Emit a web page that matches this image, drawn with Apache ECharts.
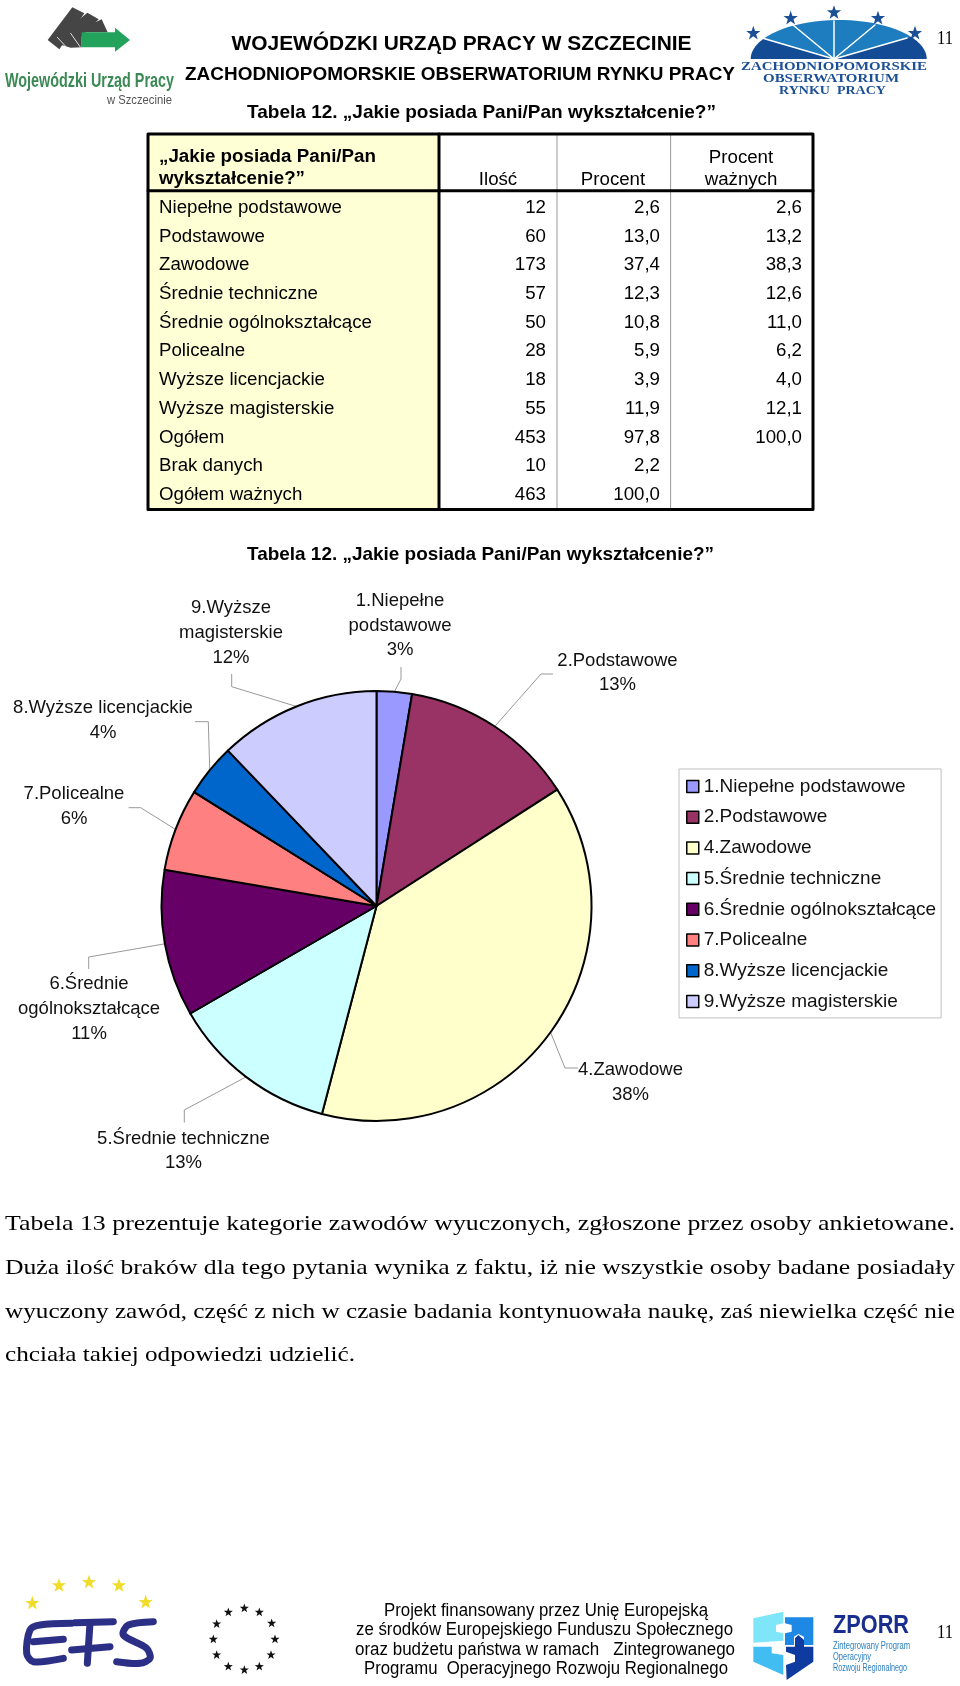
<!DOCTYPE html>
<html lang="pl">
<head>
<meta charset="utf-8">
<title>Tabela 12</title>
<script src="https://cdn.jsdelivr.net/npm/echarts@6/dist/echarts.min.js"></script>
<style>html,body{margin:0;padding:0;background:#fff}#c{width:960px;height:1686px}</style>
</head>
<body>
<div id="c"></div>
<script>
// ---- chart data ----
const categories = ['1.Niepełne podstawowe','2.Podstawowe','4.Zawodowe','5.Średnie techniczne','6.Średnie ogólnokształcące','7.Policealne','8.Wyższe licencjackie','9.Wyższe magisterskie'];
const wrappedLabels = ['1.Niepełne\npodstawowe','2.Podstawowe','4.Zawodowe','5.Średnie techniczne','6.Średnie\nogólnokształcące','7.Policealne','8.Wyższe licencjackie','9.Wyższe\nmagisterskie'];
const counts = [12,60,173,57,50,28,18,55];
const sliceColors = ['#9999FF','#993366','#FFFFCC','#CCFFFF','#660066','#FF8080','#0066CC','#CCCCFF'];

// ---- table data ----
const tableHead = ['Ilość','Procent','Procent\nważnych'];
const tableTitle = ['„Jakie posiada Pani/Pan','wykształcenie?”'];
const rowLabels = ['Niepełne podstawowe','Podstawowe','Zawodowe','Średnie techniczne','Średnie ogólnokształcące','Policealne','Wyższe licencjackie','Wyższe magisterskie','Ogółem','Brak danych','Ogółem ważnych'];
const rowCounts = ['12','60','173','57','50','28','18','55','453','10','463'];
const rowPercent = ['2,6','13,0','37,4','12,3','10,8','5,9','3,9','11,9','97,8','2,2','100,0'];
const rowValid = ['2,6','13,2','38,3','12,6','11,0','6,2','4,0','12,1','100,0','',''];

// ---- page text ----
const bodyLines = ['Tabela 13 prezentuje kategorie zawodów wyuczonych, zgłoszone przez osoby ankietowane.','Duża ilość braków dla tego pytania wynika z faktu, iż nie wszystkie osoby badane posiadały','wyuczony zawód, część z nich w czasie badania kontynuowała naukę, zaś niewielka część nie','chciała takiej odpowiedzi udzielić.'];
const footerLines = ['Projekt finansowany przez Unię Europejską','ze środków Europejskiego Funduszu Społecznego','oraz budżetu państwa w ramach   Zintegrowanego','Programu  Operacyjnego Rozwoju Regionalnego'];

// ---- label placement (centre of label, then leader elbow and end) ----
const labelPlace = [
  {c:[400,625.5], e:[401,679], t:[401,667]},
  {c:[617.5,673], e:[541,674], t:[553,674]},
  {c:[630.5,1082.5], e:[565,1068], t:[578,1068]},
  {c:[183.5,1151], e:[184.3,1110], t:[184.3,1122.5]},
  {c:[89,1009], e:[88.7,957], t:[88.7,969]},
  {c:[74,806.5], e:[140.7,807.7], t:[128.7,807.7]},
  {c:[103,720.5], e:[208.3,721.7], t:[195,721.7]},
  {c:[231,633], e:[231.7,686.7], t:[231.7,674]}
];

const SANS = '"Liberation Sans",Arial,sans-serif', SERIF = '"Liberation Serif","Times New Roman",serif';
const meas = document.createElement('canvas').getContext('2d');
const els = [];
function T(text,x,y,size,o){
  o=o||{};
  const fam=o.fam||SANS, w=o.bold?'bold':'normal';
  let sx=1;
  if(o.w){meas.font=w+' '+size+'px '+fam;sx=o.w/meas.measureText(text).width;}
  els.push({type:'text',x:x,y:y,scaleX:sx,z:5,silent:true,style:{text:text,fontSize:size,fontFamily:fam,fontWeight:w,fill:o.fill||'#000',align:o.align||'left',verticalAlign:'middle'}});
}
function R(x,y,w,h,fill){els.push({type:'rect',z:1,silent:true,shape:{x:x,y:y,width:w,height:h},style:{fill:fill}});}
function P(pts,fill,z){els.push({type:'polygon',z:z||3,silent:true,shape:{points:pts},style:{fill:fill}});}
function L(pts,color,width,smooth){els.push({type:'polyline',z:4,silent:true,shape:{points:pts,smooth:smooth||0},style:{stroke:color,lineWidth:width,fill:null,lineCap:'round',lineJoin:'round'}});}
function star(cx,cy,r,fill){
  const p=[];for(let i=0;i<10;i++){const a=-Math.PI/2+i*Math.PI/5,q=i%2?r*0.4:r;p.push([cx+q*Math.cos(a),cy+q*Math.sin(a)]);}
  P(p,fill,4);
}
function z3(base,pts){return pts.map(p=>[base[0]+p[0]/3,base[1]+p[1]/3]);}

// Titles
T('WOJEWÓDZKI URZĄD PRACY W SZCZECINIE',231.5,44,21,{bold:1,w:460});
T('ZACHODNIOPOMORSKIE OBSERWATORIUM RYNKU PRACY',185,74.5,19,{bold:1,w:550});
T('Tabela 12. „Jakie posiada Pani/Pan wykształcenie?”',247,112.5,19,{bold:1,w:469});
T('Tabela 12. „Jakie posiada Pani/Pan wykształcenie?”',247,555,19,{bold:1,w:467});
T('11',937,39,19,{fam:SERIF,w:16});
T('11',937,1633,19,{fam:SERIF,w:16});

// Table
const tx=[148,439,557,670.6,813], ty=134, hb=190.7, tb=509.5, TF=18.7;
R(tx[0],ty,tx[1]-tx[0],tb-ty,'#FFFFD6');
L([[tx[2],ty],[tx[2],tb]],'#999',1);
L([[tx[3],ty],[tx[3],tb]],'#999',1);
L([[tx[0],ty],[tx[4],ty],[tx[4],tb],[tx[0],tb],[tx[0],ty]],'#000',3);
L([[tx[0],hb],[tx[4],hb]],'#000',3);
L([[tx[1],ty],[tx[1],tb]],'#000',3);
T(tableTitle[0],159,157,TF,{bold:1,w:217});
T(tableTitle[1],159,179,TF,{bold:1,w:146});
T(tableHead[0],498,179.5,TF,{align:'center'});
T(tableHead[1],613,179.5,TF,{align:'center'});
T(tableHead[2].split('\n')[0],741,158,TF,{align:'center'});
T(tableHead[2].split('\n')[1],741,179.5,TF,{align:'center'});
rowLabels.forEach((s,i)=>{
  const y=207.8+i*28.71;
  T(s,159,y,TF);
  T(rowCounts[i],546,y,TF,{align:'right'});
  T(rowPercent[i],660,y,TF,{align:'right'});
  if(rowValid[i])T(rowValid[i],802,y,TF,{align:'right'});
});

// Body paragraph
T(bodyLines[0],5,1224,22,{fam:SERIF,w:950});
T(bodyLines[1],5,1268.5,22,{fam:SERIF,w:950});
T(bodyLines[2],5,1312,22,{fam:SERIF,w:950});
T(bodyLines[3],5,1355.5,22,{fam:SERIF,w:350});

// Footer
T(footerLines[0],384,1611,17.5,{w:324});
T(footerLines[1],356,1630.5,17.5,{w:377});
T(footerLines[2],355,1650,17.5,{w:380});
T(footerLines[3],364,1669,17.5,{w:364});

// Left header logo
const bl=[0,0];
P(z3(bl,[[143,120],[217,22],[253,40],[178,148]]),'#454545');
P(z3(bl,[[172,112],[262,38],[296,58],[212,143],[185,135]]),'#454545');
P(z3(bl,[[215,100],[305,58],[323,97],[245,97],[245,142],[212,143]]),'#454545');
L(z3(bl,[[172,112],[198,140]]),'#ddd',1);
L(z3(bl,[[212,100],[240,140]]),'#ddd',1);
P(z3(bl,[[245,97],[345,97],[345,83],[390,120],[345,155],[345,142],[245,142]]),'#22A25A');
T('Wojewódzki Urząd Pracy',5,81,20,{bold:1,w:169,fill:'#3B8A55'});
T('w Szczecinie',107,100.5,12,{w:65,fill:'#555'});

// Right header logo
function dome(a,b,cx,cy,rx,ry,ox,oy){const p=[[ox,oy]];for(let i=0;i<=24;i++){const t=(a+(b-a)*i/24)*Math.PI/180;p.push([cx+rx*Math.cos(t),cy-ry*Math.sin(t)]);}return p;}
P(dome(35,148,838.7,59,88,39,834,59),'#1E7DBF');
P(dome(148,180,838.7,59,88,39,834,59),'#134C94');
P(dome(0,35,838.7,59,88,39,834,59),'#134C94');
[[762,38],[793,25],[834,21],[875,25],[907,38]].forEach(p=>L([[834,59],p],'#fff',1.5));
[[70,100],[182,55],[312,38],[444,55],[555,100]].forEach(s=>star(730+s[0]/3,s[1]/3,7.5,'#1B4F96'));
T('ZACHODNIOPOMORSKIE',741,66.5,12.5,{fam:SERIF,bold:1,w:186,fill:'#1B4F96'});
T('OBSERWATORIUM',763,78.5,12.5,{fam:SERIF,bold:1,w:136,fill:'#1B4F96'});
T('RYNKU  PRACY',779,90.5,12.5,{fam:SERIF,bold:1,w:107,fill:'#1B4F96'});

// EFS logo
const be=[0,1570];
[[97,100],[177,47],[267,37],[357,47],[437,97]].forEach(s=>star(s[0]/3,be[1]+s[1]/3,7.5,'#F2DC2A'));
L(z3(be,[[215,160],[120,165],[90,180],[80,250],[100,275],[190,265]]),'#2C2F86',7,0.3);
L(z3(be,[[100,215],[190,208]]),'#2C2F86',7);
L(z3(be,[[225,158],[340,155]]),'#2C2F86',7);
L(z3(be,[[270,160],[262,280]]),'#2C2F86',7);
L(z3(be,[[215,240],[330,230]]),'#2C2F86',7);
L(z3(be,[[460,155],[385,165],[370,195],[440,235],[450,265],[420,280],[350,275]]),'#2C2F86',7,0.3);

// EU stars
[[733,115],[685,127],[778,127],[650,162],[815,160],[640,208],[825,208],[650,255],[813,255],[685,290],[778,290],[733,300]].forEach(s=>star(s[0]/3,1570+s[1]/3,4.8,'#111'));

// ZPORR logo
const bz=[730,1590];
P(z3(bz,[[70,85],[160,65],[160,100],[138,105],[138,125],[160,130],[160,152],[70,158]]),'#7EE6F8');
P(z3(bz,[[165,82],[250,82],[250,165],[222,165],[222,140],[205,132],[192,140],[192,165],[165,165],[165,130],[185,125],[185,105],[165,100]]),'#1E88E5');
P(z3(bz,[[70,170],[125,170],[125,190],[160,195],[160,255],[70,215]]),'#41BDF2');
P(z3(bz,[[168,170],[195,170],[195,145],[205,135],[222,150],[222,170],[250,170],[250,215],[170,270],[168,225],[195,215],[195,195],[168,185]]),'#0F3BA0');
T('ZPORR',833,1626.5,25,{bold:1,w:76,fill:'#1A2E8F'});
T('Zintegrowany Program',833,1645.5,11,{w:77,fill:'#2A7FC0'});
T('Operacyjny',833,1656.5,11,{w:38,fill:'#2A7FC0'});
T('Rozwoju Regionalnego',833,1667.5,11,{w:74,fill:'#2A7FC0'});

const chart = echarts.init(document.getElementById('c'),null,{renderer:'canvas',width:960,height:1686});
chart.setOption({
  backgroundColor:'#fff',
  animation:false,
  graphic:{elements:els},
  legend:{
    orient:'vertical',left:679,top:769,
    padding:[8,5,7,7],itemWidth:12,itemHeight:12,itemGap:11.7,
    borderColor:'#c0c0c0',borderWidth:1,backgroundColor:'#fff',
    icon:'rect',selectedMode:false,
    itemStyle:{borderColor:'#000',borderWidth:1.5},
    textStyle:{fontFamily:SANS,fontSize:19,lineHeight:18,color:'#111',padding:[0,0,0,0]},
    data:categories
  },
  series:[{
    type:'pie',name:'Wykształcenie',
    center:[376.5,906],radius:[0,215],startAngle:90,clockwise:true,
    avoidLabelOverlap:false,percentPrecision:0,silent:true,
    data:categories.map((n,i)=>({name:n,value:counts[i],itemStyle:{color:sliceColors[i]}})),
    itemStyle:{borderColor:'#000',borderWidth:2},
    label:{
      show:true,position:'outside',fontFamily:SANS,fontSize:18.5,lineHeight:24.7,color:'#111',align:'center',
      formatter:p=>wrappedLabels[p.dataIndex]+'\n'+Math.round(p.percent)+'%'
    },
    labelLine:{show:true,length:10,length2:10,lineStyle:{color:'#999',width:1}},
    labelLayout:function(p){
      const q=labelPlace[p.dataIndex];
      const start=p.labelLinePoints?p.labelLinePoints[0]:q.e;
      return {x:q.c[0],y:q.c[1],align:'center',verticalAlign:'middle',labelLinePoints:[start,q.e,q.t]};
    }
  }]
});
</script>
</body>
</html>
